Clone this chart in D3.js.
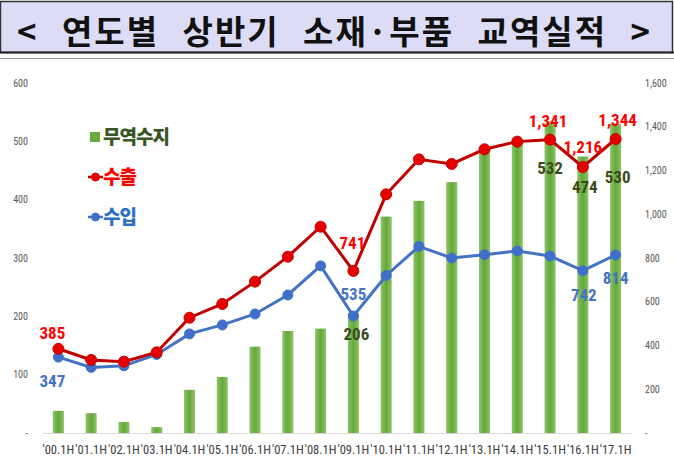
<!DOCTYPE html>
<html><head><meta charset="utf-8">
<script src="https://cdn.jsdelivr.net/npm/d3@7"></script>
<style>body{margin:0;background:#fff}svg{display:block}</style>
</head><body>
<svg id="c" width="674" height="473"></svg>
<script>
const categories = ["'00.1H","'01.1H","'02.1H","'03.1H","'04.1H","'05.1H","'06.1H","'07.1H","'08.1H","'09.1H","'10.1H","'11.1H","'12.1H","'13.1H","'14.1H","'15.1H","'16.1H","'17.1H"];
const exports_ = [385,334,326,369,527,590,692,806,943,741,1091,1251,1230,1297,1332,1341,1216,1344];
const imports_ = [347,300,307,359,453,494,544,631,764,535,720,853,800,815,832,809,742,814];
const balance  = [38,34,19,10,74,96,148,175,179,206,371,398,430,482,500,532,474,530];
const leftTicks = [0,100,200,300,400,500,600];
const rightTicks = [0,200,400,600,800,1000,1200,1400,1600];
const title = "< 연도별 상반기 소재·부품 교역실적 >";
const legendNames = ["무역수지","수출","수입"];

// label layout: [index, dx, dy]
const expLabels = [[0,-6,-10],[9,-1,-22],[15,-2,-13],[16,0,-14],[17,2,-13]];
const impLabels = [[0,-6,30],[9,0,-16],[16,1,30],[17,0,29]];
const balLabels = [[9,3,27],[15,0,34],[16,2,26],[17,2,44]];

const svg = d3.select("#c");
const cjk = "'Noto Sans CJK KR','Noto Sans',sans-serif";
const narrow = "'Liberation Sans Narrow','Roboto Condensed','Liberation Sans',sans-serif";

// title box
svg.append("rect").attr("x",0.5).attr("y",1.5).attr("width",672).attr("height",51)
  .attr("fill","#dcdcf6").attr("stroke","#333").attr("stroke-width",1.5);
svg.append("line").attr("x1",0).attr("x2",674).attr("y1",52.5).attr("y2",52.5).attr("stroke","#222").attr("stroke-width",2);
svg.append("line").attr("x1",0).attr("x2",674).attr("y1",58.5).attr("y2",58.5).attr("stroke","#999").attr("stroke-width",1);
svg.append("text").attr("x",17).attr("y",44).text(title)
  .attr("font-family",cjk).attr("font-size",33).attr("font-weight",700).attr("fill","#111")
  .attr("letter-spacing",2).attr("word-spacing",14);

const x = d3.scaleBand().domain(categories).range([42,632]).padding(0);
const yL = d3.scaleLinear().domain([0,600]).range([433,83]);
const yR = d3.scaleLinear().domain([0,1600]).range([433,83]);
const cx = d => x(d) + x.bandwidth()/2;

// gradient for bars
const defs = svg.append("defs");
const g = defs.append("linearGradient").attr("id","bg").attr("x1","0").attr("x2","1").attr("y1","0").attr("y2","0");
g.append("stop").attr("offset","0").attr("stop-color","#8cc466");
g.append("stop").attr("offset","0.5").attr("stop-color","#64a83a");
g.append("stop").attr("offset","1").attr("stop-color","#8cc466");

// axes
const axL = svg.append("g").attr("transform","translate(30,0)")
  .call(d3.axisLeft(yL).tickValues(leftTicks).tickSize(0).tickFormat(d => d===0 ? "-" : d3.format(",")(d)));
const axR = svg.append("g").attr("transform","translate(643,0)")
  .call(d3.axisRight(yR).tickValues(rightTicks).tickSize(0).tickFormat(d => d===0 ? "-" : d3.format(",")(d)));
[axL,axR].forEach(a => {
  a.select(".domain").remove();
  a.selectAll("text").attr("font-family",narrow).attr("font-size",10).attr("fill","#595959").attr("dx",0);
});
axL.selectAll("text").attr("x",-2);
axR.selectAll("text").attr("x",2);

// bars
svg.append("g").selectAll("rect").data(categories).join("rect")
  .attr("x", d => cx(d) - 5.5).attr("width", 11)
  .attr("y", (d,i) => yL(balance[i])).attr("height", (d,i) => yL(0) - yL(balance[i]))
  .attr("fill","url(#bg)");

// baseline
const axB = svg.append("g").attr("transform","translate(0,433)")
  .call(d3.axisBottom(x).tickSize(0).tickPadding(12));
axB.select(".domain").attr("stroke","#d9d9d9").attr("stroke-width",1.2);
axB.selectAll("text").attr("font-family",narrow).attr("font-size",12.5).attr("fill","#404040");

// lines
function drawLine(vals, color, dotColor, r) {
  const line = d3.line().x((d,i) => cx(categories[i])).y(d => yR(d));
  svg.append("path").datum(vals).attr("d", line).attr("fill","none").attr("stroke",color).attr("stroke-width",3);
  svg.append("g").selectAll("circle").data(vals).join("circle")
    .attr("cx",(d,i) => cx(categories[i])).attr("cy", d => yR(d)).attr("r", r)
    .attr("fill",dotColor).attr("stroke",color).attr("stroke-width",1);
}
drawLine(imports_, "#4472c4", "#3f6fc8", 5);
drawLine(exports_, "#c00000", "#e60000", 5.5);

// labels
function labels(spec, vals, yfn, color) {
  svg.append("g").selectAll("text").data(spec).join("text")
    .attr("x", s => cx(categories[s[0]]) + s[1])
    .attr("y", s => yfn(vals[s[0]]) + s[2])
    .attr("text-anchor","middle")
    .attr("font-family",narrow).attr("font-weight",700).attr("font-size",17)
    .attr("fill",color)
    .text(s => d3.format(",")(vals[s[0]]));
}
labels(expLabels, exports_, yR, "#ff0000");
labels(impLabels, imports_, yR, "#4472c4");
svg.append("g").selectAll("text").data(balLabels).join("text")
  .attr("x", s => cx(categories[s[0]]) + s[1])
  .attr("y", s => (s[0]===9 ? yL(balance[s[0]]) : yR(exports_[s[0]])) + s[2])
  .attr("text-anchor","middle")
  .attr("font-family",narrow).attr("font-weight",700).attr("font-size",17)
  .attr("fill","#3a4a1e")
  .text(s => d3.format(",")(balance[s[0]]));

// legend
const lg = svg.append("g");
lg.append("rect").attr("x",90).attr("y",132).attr("width",10).attr("height",10).attr("fill","#6aaa3e");
lg.append("line").attr("x1",88).attr("x2",103).attr("y1",177).attr("y2",177).attr("stroke","#c00000").attr("stroke-width",2.5);
lg.append("circle").attr("cx",95.5).attr("cy",177).attr("r",4).attr("fill","#e60000").attr("stroke","#c00000");
lg.append("line").attr("x1",88).attr("x2",103).attr("y1",217).attr("y2",217).attr("stroke","#4472c4").attr("stroke-width",2.5);
lg.append("circle").attr("cx",95.5).attr("cy",217).attr("r",4).attr("fill","#3f6fc8").attr("stroke","#4472c4");
const legColors = ["#375623","#ff0000","#2e6fc0"];
lg.selectAll("text").data(legendNames).join("text")
  .attr("x",103).attr("y",(d,i) => 144 + i*40)
  .attr("font-family",cjk).attr("font-weight",900).attr("font-size",19).attr("letter-spacing",-1)
  .attr("fill",(d,i) => legColors[i]).text(d => d);
</script>
</body></html>
